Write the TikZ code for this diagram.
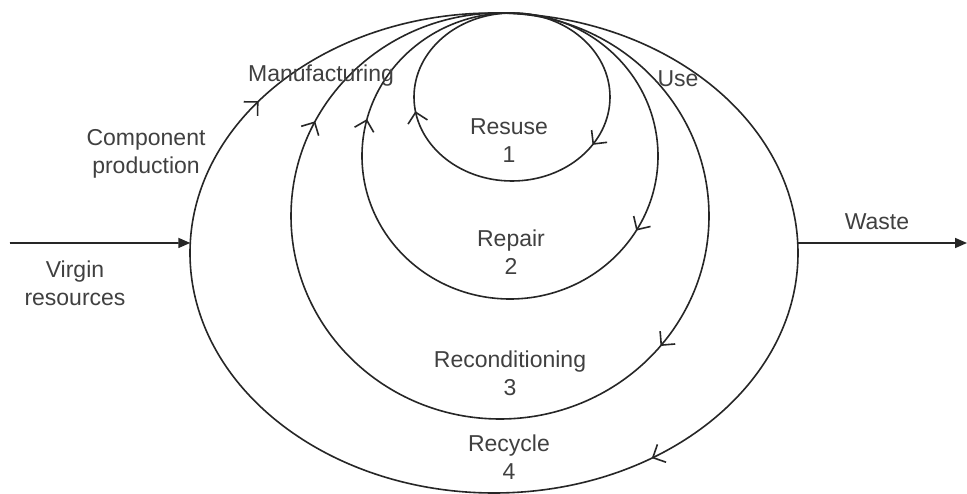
\documentclass[tikz,border=0pt]{standalone}
\usepackage{fontspec}
\setmainfont{Liberation Sans}
\usetikzlibrary{arrows.meta,calc}
\definecolor{linec}{HTML}{262626}
\definecolor{textc}{HTML}{404040}
\newcommand\flowmark[4]{%
  \pgfmathsetmacro\fdir{atan2((#3)*cos(#4), -(#2)*sin(#4))}%
  \coordinate (fm) at ($(#1)+(#4:#2 and #3)$);
  \draw[chev] ($(fm)+(\fdir+135:14)$) -- (fm) -- ($(fm)+(\fdir-135:14)$);
}
\begin{document}
\begin{tikzpicture}[x=1pt,y=-1pt,
  ring/.style={draw=linec, line width=1.6pt},
  chev/.style={draw=linec, line width=1.6pt, line join=miter},
  lbl/.style={text=textc, font=\fontsize{23}{28}\selectfont, align=center, inner sep=0pt},
  feed/.style={draw=linec, line width=1.6pt, -{Triangle[length=12pt,width=10pt]}}]
\useasboundingbox[fill=white] (0,0) rectangle (967,494);
% centres
\coordinate (c1) at (512,97);
\coordinate (c2) at (510,156);
\coordinate (c3) at (500,216);
\coordinate (c4) at (494,253);
% rings
\draw[ring] (c1) ellipse [x radius=98, y radius=84];
\draw[ring] (c2) ellipse [x radius=148, y radius=143];
\draw[ring] (c3) ellipse [x radius=209, y radius=203];
\draw[ring] (c4) ellipse [x radius=304, y radius=240];
% flow arrowheads
\flowmark{c1}{98}{84}{169.5}
\flowmark{c1}{98}{84}{34}
\flowmark{c2}{148}{143}{194.5}
\flowmark{c2}{148}{143}{31}
\flowmark{c3}{209}{203}{207.5}
\flowmark{c3}{209}{203}{39.5}
\flowmark{c4}{304}{240}{219}
\flowmark{c4}{304}{240}{58.5}
% input / output
\coordinate (vin) at (10,243);
\coordinate (w4) at ($(c4)+(182.4:304 and 240)$);
\coordinate (e4) at ($(c4)+(-2.4:304 and 240)$);
\coordinate (wout) at (967,243);
\draw[feed] (vin) -- (w4);
\draw[feed] (e4) -- (wout);
% labels
\node[lbl] (manu) at (321,76) {Manufacturing};
\node[lbl] (comp) at (146,154) {Component\\production};
\node[lbl] (use) at (678,79) {Use};
\node[lbl] (reuse) at (509,141) {Resuse\\1};
\node[lbl] (repair) at (511,252) {Repair\\2};
\node[lbl] (recond) at (510,373) {Reconditioning\\3};
\node[lbl] (recyc) at (509,457) {Recycle\\4};
\node[lbl] (virgin) at (75,283) {Virgin\\resources};
\node[lbl] (waste) at (877,222) {Waste};
\end{tikzpicture}
\end{document}
